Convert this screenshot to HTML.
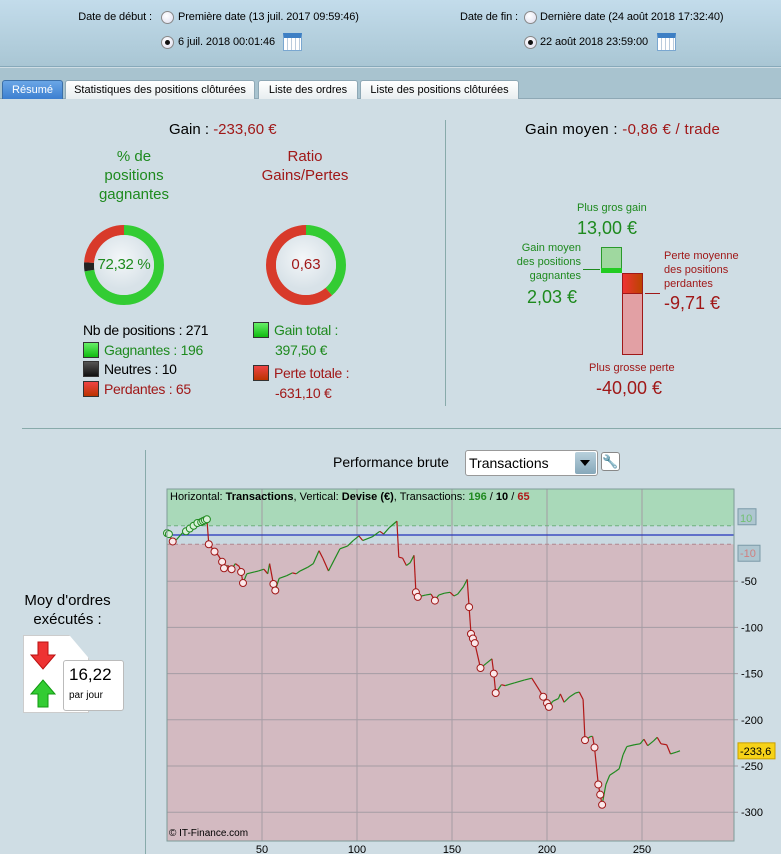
<!DOCTYPE html>
<html><head><meta charset="utf-8">
<style>
*{margin:0;padding:0;box-sizing:border-box}
body{width:781px;height:854px;overflow:hidden;background:#cfdde4;font-family:"Liberation Sans",sans-serif;position:relative;color:#000}
.a{position:absolute;white-space:nowrap}
.s12{font-size:11px;letter-spacing:-0.1px}
.radio{position:absolute;width:13px;height:13px;border-radius:50%;background:radial-gradient(circle at 40% 35%,#fff,#dde);border:1px solid #888}
.radio.on::after{content:"";position:absolute;left:3px;top:3px;width:5px;height:5px;border-radius:50%;background:#111}
.cal{position:absolute;width:19px;height:18px;border:1px solid #7aa7d0;background:repeating-linear-gradient(90deg,#fff 0 3px,#bcd 3px 4px),#fff;border-top:5px solid #3d7fc4}
.tab{position:absolute;top:80px;height:19px;border:1px solid #8ea8b5;border-bottom:none;border-radius:3px 3px 0 0;background:linear-gradient(#fff,#e8eef0);font-size:11px;text-align:center;line-height:18px}
.g{color:#1e8a1e}.r{color:#a01818}
.sq{display:inline-block;width:16px;height:16px;vertical-align:-3px;margin-right:5px;border:1px solid #333}
.leg{font-size:14px;line-height:19.5px;letter-spacing:-0.3px}
</style></head><body>
<div class="a" style="left:0;top:0;width:781px;height:67px;background:linear-gradient(#c3dceb,#a9c6d4);border-bottom:1px solid #87a9ba"></div>
<div class="a" style="left:0;top:68px;width:781px;height:31px;background:#a8c3cf;border-bottom:1px solid #8ea8b5"></div>
<div class="a s12" style="left:52px;width:100px;text-align:right;top:11px">Date de début :</div>
<div class="radio" style="left:161px;top:11px"></div>
<div class="a s12" style="left:178px;top:11px">Première date (13 juil. 2017 09:59:46)</div>
<div class="radio on" style="left:161px;top:36px"></div>
<div class="a s12" style="left:178px;top:36px">6 juil. 2018 00:01:46</div>
<div class="cal" style="left:283px;top:33px"></div>
<div class="a s12" style="left:418px;width:100px;text-align:right;top:11px">Date de fin :</div>
<div class="radio" style="left:524px;top:11px"></div>
<div class="a s12" style="left:540px;top:11px">Dernière date (24 août 2018 17:32:40)</div>
<div class="radio on" style="left:524px;top:36px"></div>
<div class="a s12" style="left:540px;top:36px">22 août 2018 23:59:00</div>
<div class="cal" style="left:657px;top:33px"></div>

<div class="tab" style="left:2px;width:61px;background:linear-gradient(#6aa6e6,#3c7fd0);color:#fff;border-color:#3b6fa8">Résumé</div>
<div class="tab" style="left:65px;width:190px">Statistiques des positions clôturées</div>
<div class="tab" style="left:258px;width:100px">Liste des ordres</div>
<div class="tab" style="left:360px;width:159px">Liste des positions clôturées</div>

<div class="a" style="left:445px;top:120px;width:1px;height:286px;background:#8aa"></div>
<div class="a" style="left:22px;top:428px;width:759px;height:1px;background:#8aa"></div>
<div class="a" style="left:145px;top:450px;width:1px;height:404px;background:#8aa"></div>

<div class="a" style="left:169px;top:121px;font-size:15px">Gain : <span class="r">-233,60 €</span></div>
<div class="a g" style="left:74px;top:147px;width:120px;text-align:center;font-size:15px;line-height:19px">% de<br>positions<br>gagnantes</div>
<div class="a r" style="left:245px;top:147px;width:120px;text-align:center;font-size:15px;line-height:19px">Ratio<br>Gains/Pertes</div>
<svg class="a" style="left:0;top:0" width="445" height="420">
<defs><radialGradient id="ig" cx="45%" cy="40%"><stop offset="0" stop-color="#f4f7f9"/><stop offset="1" stop-color="#d8e2e8"/></radialGradient></defs>
<g id="d1"></g>
<g id="d2"></g>
</svg>
<div class="a g" style="left:84px;top:256px;width:80px;text-align:center;font-size:15px;letter-spacing:-0.3px">72,32 %</div>
<div class="a r" style="left:266px;top:256px;width:80px;text-align:center;font-size:15px">0,63</div>
<div class="a leg" style="left:83px;top:321px">
Nb de positions : 271<br>
<span class="g"><span class="sq" style="background:linear-gradient(#6e6,#1b1)"></span>Gagnantes : 196</span><br>
<span><span class="sq" style="background:linear-gradient(#555,#111)"></span>Neutres : 10</span><br>
<span class="r"><span class="sq" style="background:linear-gradient(#e44,#b30)"></span>Perdantes : 65</span></div>
<div class="a leg" style="left:253px;top:321px">
<span class="g"><span class="sq" style="background:linear-gradient(#6e6,#1b1)"></span>Gain total :</span><br>
<span class="g" style="margin-left:22px">397,50 €</span><br>
<div style="height:4px"></div>
<span class="r"><span class="sq" style="background:linear-gradient(#e44,#b30)"></span>Perte totale :</span><br>
<span class="r" style="margin-left:22px">-631,10 €</span></div>

<div class="a" style="left:525px;top:121px;font-size:15px;letter-spacing:0.3px">Gain moyen : <span class="r">-0,86 € / trade</span></div>
<div class="a g" style="left:577px;top:202px;font-size:11px">Plus gros gain</div>
<div class="a g" style="left:577px;top:218px;font-size:18px">13,00 €</div>
<div class="a g" style="left:505px;top:241px;width:76px;text-align:right;font-size:11px;line-height:14px">Gain moyen<br>des positions<br>gagnantes</div>
<div class="a g" style="left:527px;top:287px;font-size:18px">2,03 €</div>
<div class="a" style="left:583px;top:269px;width:17px;height:1px;background:#1e8a1e"></div>
<div class="a" style="left:601px;top:247px;width:21px;height:26px;background:#9fd89f;border:1px solid #2a9a2a"></div>
<div class="a" style="left:601px;top:268px;width:21px;height:5px;background:#2c2"></div>
<div class="a" style="left:622px;top:273px;width:21px;height:82px;background:#e2a0a4;border:1px solid #a01818"></div>
<div class="a" style="left:622px;top:273px;width:21px;height:21px;background:linear-gradient(90deg,#e33,#b40);border:1px solid #a01818"></div>
<div class="a" style="left:645px;top:293px;width:15px;height:1px;background:#a01818"></div>
<div class="a r" style="left:664px;top:249px;font-size:11px;line-height:14px">Perte moyenne<br>des positions<br>perdantes</div>
<div class="a r" style="left:664px;top:293px;font-size:18px">-9,71 €</div>
<div class="a r" style="left:589px;top:362px;font-size:11px">Plus grosse perte</div>
<div class="a r" style="left:596px;top:378px;font-size:18px">-40,00 €</div>

<div class="a" style="left:10px;top:591px;width:115px;text-align:center;font-size:15px;line-height:19px">Moy d'ordres<br>exécutés :</div>
<div class="a" style="left:23px;top:635px;width:66px;height:78px;background:#fff;border:1px solid #ccc;clip-path:polygon(0 0,70% 0,100% 30%,100% 100%,0 100%)"></div>
<svg class="a" style="left:30px;top:640px" width="30" height="70"><path d="M8 2h10v13h7L13 29 1 15h7z" fill="#e33" stroke="#b11"/><path d="M8 67h10V54h7L13 40 1 54h7z" fill="#3c3" stroke="#191"/></svg>
<div class="a" style="left:63px;top:660px;width:61px;height:51px;background:#fff;border:1px solid #bbb;border-radius:3px"></div>
<div class="a" style="left:69px;top:665px;font-size:17px">16,22</div>
<div class="a" style="left:69px;top:690px;font-size:10px">par jour</div>

<div class="a" style="left:333px;top:454px;font-size:14px">Performance brute</div>
<div class="a" style="left:465px;top:450px;width:133px;height:26px;background:#fff;border:1px solid #999;border-radius:3px;font-size:14px;padding:4px 3px">Transactions<span style="position:absolute;right:1px;top:1px;width:21px;height:22px;background:linear-gradient(#b8d0dc,#86a8ba);border-radius:2px"><span style="position:absolute;left:5px;top:8px;border:5px solid transparent;border-top:6px solid #000"></span></span></div>
<div class="a" style="left:601px;top:452px;width:19px;height:19px;background:#fff;border:1px solid #888;border-radius:3px;font-size:13px;text-align:center;line-height:17px">🔧</div>

<svg class="a" id="chart" style="left:0;top:0" width="781" height="854"></svg>

<script>
const trades=[0,1,3,5,8,10,12,14,16,18,19,20,21,22,24,25,27,29,30,32,34,36,38,39,40,42,46,48,51,53,54,56,57,59,63,66,68,70,74,77,80,82,85,88,91,95,98,101,103,108,112,114,117,121,122,124,126,128,130,131,132,136,139,141,143,146,149,151,153,156,158,159,160,161,162,165,168,171,172,173,175,176,178,183,188,192,196,198,200,201,203,206,207,209,212,215,217,219,220,223,224,225,227,228,229,231,233,236,238,240,242,246,249,251,253,256,258,260,263,265,268,270];
const values=[2,1,-7,-5,2,4,7,10,13,14,15,16,17,-10,-15,-18,-22,-29,-36,-33,-37,-31,-34,-40,-52,-42,-40,-39,-37,-42,-31,-53,-60,-47,-44,-41,-42,-39,-35,-31,-17,-25,-39,-27,-15,-12,-6,-1,-6,-2,4,1,8,15,-24,-25,-33,-30,-22,-62,-67,-65,-64,-71,-65,-63,-62,-66,-64,-56,-48,-78,-107,-112,-117,-144,-139,-134,-150,-171,-165,-162,-163,-160,-157,-155,-168,-175,-182,-186,-180,-177,-172,-181,-175,-171,-170,-178,-222,-218,-218,-230,-270,-281,-292,-270,-260,-256,-253,-238,-229,-227,-226,-221,-228,-223,-219,-226,-227,-237,-235,-233.6];
const winMarkers=[0,1,10,12,14,16,18,19,20,21];
const lossMarkers=[3,22,25,29,30,34,39,40,56,57,131,132,141,159,160,161,162,165,172,173,198,200,201,220,225,227,228,229];
const xTicks=[50,100,150,200,250];
const yTicks=[-50,-100,-150,-200,-250,-300];
const band=[10,-10];
const counts=[196,10,65];
const totals=[397.5,631.1];

const NS='http://www.w3.org/2000/svg';
function mk(p,t,a){const e=document.createElementNS(NS,t);for(const k in a)e.setAttribute(k,a[k]);p.appendChild(e);return e;}
const L=167,R=734,T=489,B=841;
const X=t=>L+t*1.9, Y=v=>535-v*0.924;
const svg=document.getElementById('chart');
let e;
e=mk(svg,'rect',{x:L,y:T,width:R-L,height:Y(band[0])-T,fill:'#a9d9b9'});


e=mk(svg,'rect',{x:L,y:Y(band[0]),width:R-L,height:Y(band[1])-Y(band[0]),fill:'#c9d9e1'});


e=mk(svg,'rect',{x:L,y:Y(band[1]),width:R-L,height:B-Y(band[1]),fill:'#d3bac1'});


xTicks.forEach(t=>{e=mk(svg,'line',{x1:X(t),x2:X(t),y1:T,y2:B,stroke:'#a49ca4','stroke-width':1});


e=mk(svg,'text',{x:X(t),y:B+12,'font-size':11,'text-anchor':'middle','font-family':'Liberation Sans'});e.textContent=t;

});
yTicks.forEach(v=>{e=mk(svg,'line',{x1:L,x2:R+4,y1:Y(v),y2:Y(v),stroke:'#a49ca4','stroke-width':1});


e=mk(svg,'text',{x:R+7,y:Y(v)+4,'font-size':11,'font-family':'Liberation Sans'});e.textContent=v;

});
band.forEach((v,i)=>{e=mk(svg,'line',{x1:L,x2:R,y1:Y(v),y2:Y(v),stroke:i?'#b08890':'#70b080','stroke-dasharray':'4,3'});


e=mk(svg,'rect',{x:R+4,y:Y(v)+(i?1:-17),width:i?22:18,height:16,fill:'#aec6d0',stroke:'#7b9aa8'});


e=mk(svg,'text',{x:R+6,y:Y(v)+(i?13:-4),'font-size':11,fill:i?'#d08080':'#70c070','font-family':'Liberation Sans'});e.textContent=v;

});
e=mk(svg,'line',{x1:L,x2:R,y1:Y(0),y2:Y(0),stroke:'#2233bb','stroke-width':1.2});


for(let i=1;i<trades.length;i++){const up=values[i]>=values[i-1];
e=mk(svg,'line',{x1:X(trades[i-1]),y1:Y(values[i-1]),x2:X(trades[i]),y2:Y(values[i]),stroke:up?'#1f8a1f':'#b01818','stroke-width':1.2});

}
function valAt(t){const i=trades.indexOf(t);return values[i];}
winMarkers.forEach(t=>{e=mk(svg,'circle',{cx:X(t),cy:Y(valAt(t)),r:3.5,fill:'#d8f0d8',stroke:'#1f8a1f'});

});
lossMarkers.forEach(t=>{e=mk(svg,'circle',{cx:X(t),cy:Y(valAt(t)),r:3.5,fill:'#fbe8ea',stroke:'#a01818'});

});
const last=values[values.length-1];
e=mk(svg,'rect',{x:R+4,y:Y(last)-8,width:37,height:16,fill:'#f6d218',stroke:'#c9a000'});


e=mk(svg,'text',{x:R+6,y:Y(last)+4,'font-size':11,'font-family':'Liberation Sans'});e.textContent=String(last).replace('.',',');


e=mk(svg,'rect',{x:L,y:T,width:R-L,height:B-T,fill:'none',stroke:'#7e9a98'});


e=mk(svg,'text',{x:L+3,y:T+11,'font-size':11,'font-family':'Liberation Sans'});
e.innerHTML='Horizontal: <tspan font-weight="bold">Transactions</tspan>, Vertical: <tspan font-weight="bold">Devise (€)</tspan>, Transactions: <tspan fill="#1f8a1f" font-weight="bold">'+counts[0]+'</tspan> / <tspan font-weight="bold">'+counts[1]+'</tspan> / <tspan fill="#b01818" font-weight="bold">'+counts[2]+'</tspan>';


e=mk(svg,'text',{x:L+2,y:B-5,'font-size':10,'font-family':'Liberation Sans'});e.textContent='© IT-Finance.com';



function donut(g,cx,cy,parts,colors){const r=35,C=2*Math.PI*r,tot=parts.reduce((a,b)=>a+b,0);let off=0;
parts.forEach((p,i)=>{const len=p/tot*C;
const c=mk(g,'circle',{cx,cy,r,fill:'none',stroke:colors[i],'stroke-width':10,'stroke-dasharray':len+' '+(C-len),'stroke-dashoffset':-off,transform:`rotate(-90 ${cx} ${cy})`});


off+=len;});
const f=mk(g,'circle',{cx,cy,r:30,fill:'url(#ig)'});

}
donut(document.getElementById('d1'),124,265,counts,['#33cc33','#222','#d83a2a']);
donut(document.getElementById('d2'),306,265,totals,['#33cc33','#d83a2a']);
</script>
</body></html>
